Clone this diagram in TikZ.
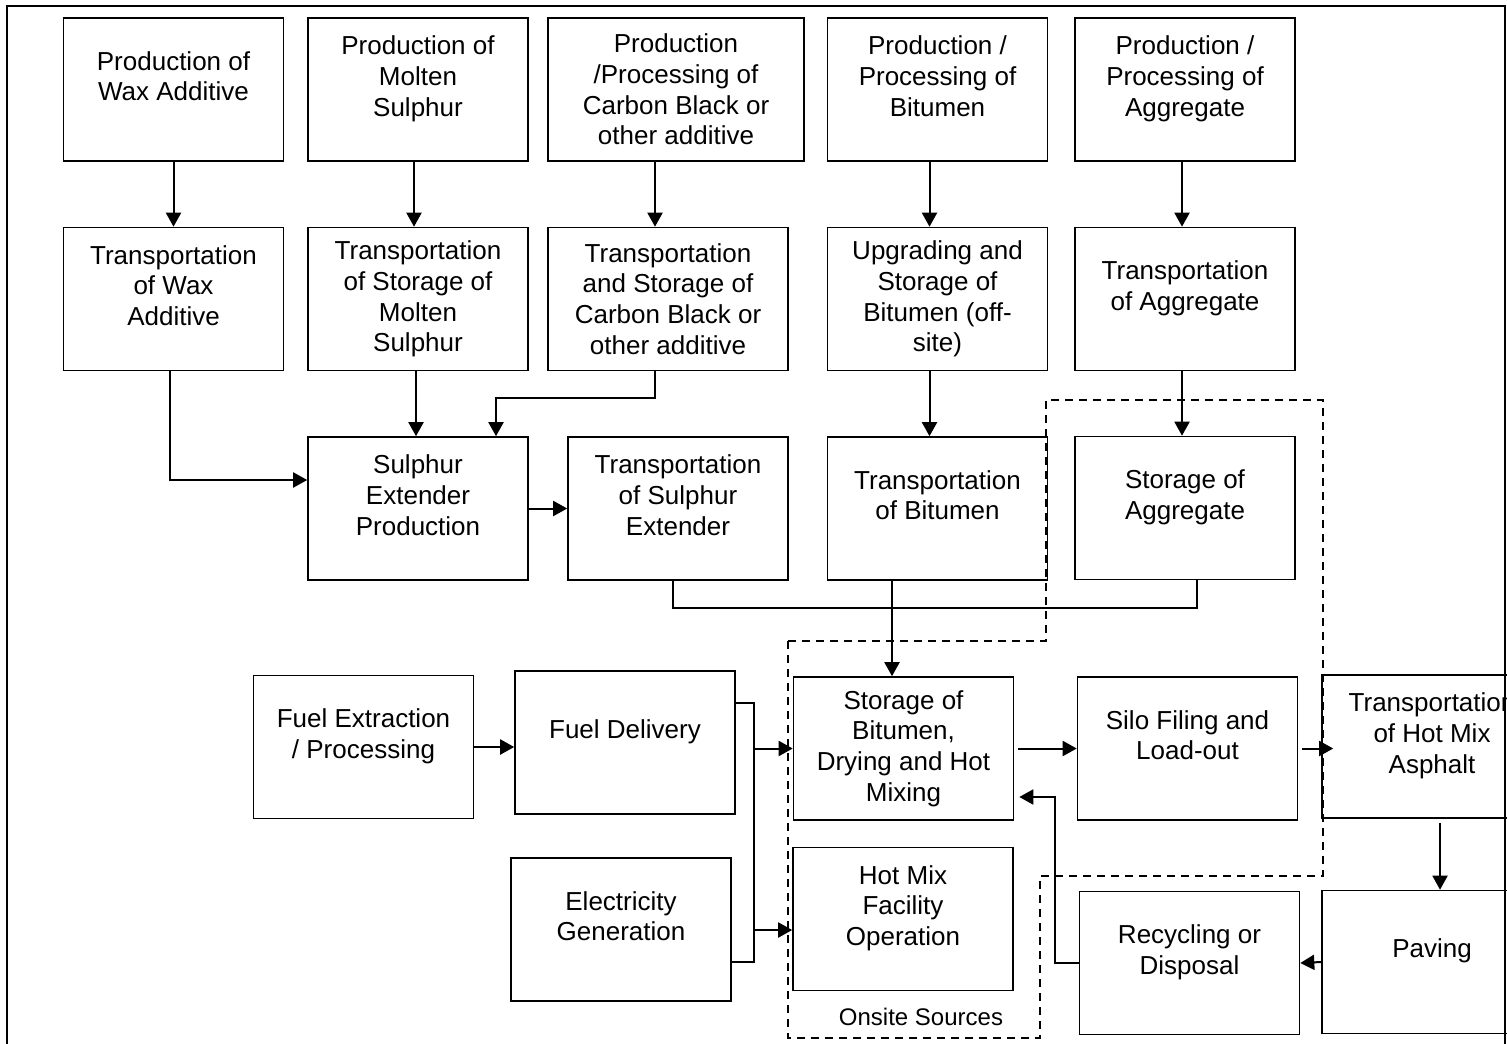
\documentclass[tikz,border=0pt]{standalone}
\usepackage{fontspec}
\setmainfont{Liberation Sans}
\usetikzlibrary{arrows.meta,calc}
\tikzset{
    box/.style={draw, line width=0.8pt, minimum width=110pt, minimum height=71.5pt, inner sep=2pt, align=center, font=\fontsize{13}{15.3}\selectfont},
    lift/.style={text depth=13.5pt},
    arr/.style={line width=1pt, -{Triangle[length=7pt,width=7.5pt]}},
    link/.style={line width=1pt},
    onsite/.style={line width=1pt, dash pattern=on 4pt off 3pt}
}
\begin{document}
\begin{tikzpicture}[x=0.5pt, y=-0.5pt]
    \clip (0,0) rectangle (1507,1043);
    \draw[line width=1.2pt] (7,6) rectangle (1505,1080); % frame

    % Production
    \node[box, lift] (pwax) at (173.5,89.5) {Production of\\Wax Additive};
    \node[box, lift] (psul) at (418,89.5) {Production of\\Molten\\Sulphur};
    \node[box, minimum width=128pt] (pcarb) at (676,89.5) {Production\\/Processing of\\Carbon Black or\\other additive};
    \node[box, lift] (pbit) at (937.5,89.5) {Production /\\Processing of\\Bitumen};
    \node[box, lift] (pagg) at (1185,89.5) {Production /\\Processing of\\Aggregate};

    % Transportation and storage
    \node[box, lift] (twax) at (173.5,299) {Transportation\\of Wax\\Additive};
    \node[box] (tsul) at (418,299) {Transportation\\of Storage of\\Molten\\Sulphur};
    \node[box, minimum width=120pt] (tcarb) at (668,299) {Transportation\\and Storage of\\Carbon Black or\\other additive};
    \node[box] (ubit) at (937.5,299) {Upgrading and\\Storage of\\Bitumen (off-\\site)};
    \node[box, lift] (tagg) at (1185,299) {Transportation\\of Aggregate};

    \node[box, lift] (sep) at (418,508.5) {Sulphur\\Extender\\Production};
    \node[box, lift] (tse) at (678,508.5) {Transportation\\of Sulphur\\Extender};
    \node[box, lift] (tbit) at (937.5,508.5) {Transportation\\of Bitumen};
    \node[box, lift] (sagg) at (1185,508) {Storage of\\Aggregate};

    % Hot mix plant
    \node[box, lift] (fuelx) at (363.5,747) {Fuel Extraction\\/ Processing};
    \node[box, lift] (fueld) at (625,742.5) {Fuel Delivery};
    \node[box] (mix) at (903.5,748.5) {Storage of\\Bitumen,\\Drying and Hot\\Mixing};
    \node[box, lift] (silo) at (1187.5,748.5) {Silo Filing and\\Load-out};
    \node[box, lift] (thma) at (1432,746.5) {Transportation\\of Hot Mix\\Asphalt};
    \node[box, lift] (elec) at (621,929.5) {Electricity\\Generation};
    \node[box, lift] (hmfo) at (903,919) {Hot Mix\\Facility\\Operation};
    \node[box, lift] (recyc) at (1189.5,963) {Recycling or\\Disposal};
    \node[box, lift] (paving) at (1432,962) {Paving};

    % Onsite boundary
    \draw[onsite] (788,641) -- (1046,641) -- (1046,400) -- (1323,400) -- (1323,876) -- (1040,876) -- (1040,1038) -- (788,1038) -- cycle;
    \node[font=\fontsize{12}{14}\selectfont] (onsitelbl) at (921,1017) {Onsite Sources};

    % Arrows
    \draw[arr] (pwax.south) -- (twax.north);
    \draw[arr] ([xshift=-2pt]psul.south) -- ([xshift=-2pt]tsul.north);
    \draw[arr] ([xshift=-10.5pt]pcarb.south) -- ([xshift=-10.5pt]pcarb.south |- tcarb.north);
    \draw[arr] ([xshift=-4pt]pbit.south) -- ([xshift=-4pt]ubit.north);
    \draw[arr] ([xshift=-1.5pt]pagg.south) -- ([xshift=-1.5pt]tagg.north);

    \draw[arr] ([xshift=-1.75pt]twax.south) |- ([yshift=14.25pt]sep.west);
    \draw[arr] ([xshift=-1pt]tsul.south) -- ([xshift=-1pt]sep.north);
    \draw[arr] ([xshift=-6.5pt]tcarb.south) -- ++(0,27) -| ([xshift=39pt]sep.north);
    \draw[arr] ([xshift=-4pt]ubit.south) -- ([xshift=-4pt]tbit.north);
    \draw[arr] ([xshift=-1.5pt]tagg.south) -- ([xshift=-1.5pt]sagg.north);
    \draw[arr] (sep.east) -- (tse.west);

    % Collector
    \draw[link] ([xshift=-2.5pt]tse.south) -- ++(0,27) -| ([xshift=6pt]sagg.south);
    \draw[link] ([xshift=-22.75pt]tbit.south) -- ++(0,27) coordinate (bus);
    \draw[arr] (bus) -- (bus |- mix.north);

    % Fuel and power
    \draw[arr] (fuelx.east) -- (fuelx.east -| fueld.west);
    \draw[link] ([yshift=19.75pt]fueld.east) -- ++(18,0) coordinate (fork) |- ([yshift=-16.25pt]elec.east);
    \draw[arr] (fork |- mix.west) -- (mix.west);
    \draw[arr] ([yshift=-5.5pt]hmfo.west -| fork) -- ([yshift=-5.5pt]hmfo.west);

    \draw[arr] ([xshift=2pt]mix.east) -- (silo.west);
    \draw[arr] ([xshift=2pt]silo.east) -- ([xshift=6pt]thma.west |- silo.east);
    \draw[arr] ([xshift=4pt, yshift=-2pt]thma.south) -- ([xshift=4pt]paving.north);
    \draw[arr] (paving.west) -- (recyc.east);
    \draw[arr] (recyc.west) -- ++(-24,0) |- ([xshift=2.5pt, yshift=-24.25pt]mix.east);
\end{tikzpicture}
\end{document}
